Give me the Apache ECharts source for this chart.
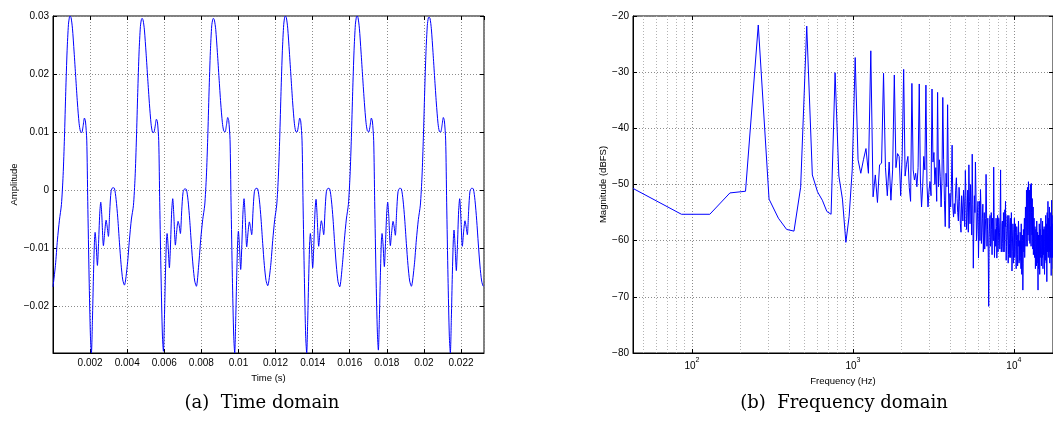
<!DOCTYPE html>
<html lang="en">
<head>
<meta charset="UTF-8">
<title>Time and frequency domain</title>
<style>
    html, body {margin: 0; padding: 0; background: #fff;}
    #main {width: 1053px; height: 435px;}
</style>
</head>
<body>
<div id="main"></div>
<script src="https://cdn.jsdelivr.net/npm/echarts@6/dist/echarts.min.js"></script>
<script>
    // time domain, one period per line
    var waveTime = [
        0.000000,
        0.000131, 0.000239, 0.000347, 0.000455, 0.000545, 0.000617, 0.000688, 0.000760, 0.000832, 0.000886, 0.000922, 0.000976, 0.001048, 0.001138, 0.001227, 0.001317, 0.001407, 0.001479, 0.001551, 0.001623, 0.001695, 0.001749, 0.001820, 0.001874, 0.001946, 0.002018, 0.002072, 0.002126, 0.002180, 0.002234, 0.002270, 0.002324, 0.002395, 0.002449, 0.002521, 0.002575, 0.002629, 0.002719, 0.002791, 0.002863, 0.002917, 0.002988, 0.003060, 0.003132, 0.003222, 0.003312, 0.003402, 0.003492, 0.003581, 0.003671, 0.003761, 0.003851,
        0.004012, 0.004120, 0.004228, 0.004336, 0.004426, 0.004498, 0.004569, 0.004641, 0.004713, 0.004767, 0.004803, 0.004857, 0.004929, 0.005019, 0.005108, 0.005198, 0.005288, 0.005360, 0.005432, 0.005504, 0.005576, 0.005630, 0.005701, 0.005755, 0.005827, 0.005899, 0.005953, 0.006007, 0.006061, 0.006115, 0.006151, 0.006205, 0.006276, 0.006330, 0.006402, 0.006456, 0.006510, 0.006600, 0.006672, 0.006744, 0.006798, 0.006869, 0.006941, 0.007013, 0.007103, 0.007193, 0.007283, 0.007373, 0.007462, 0.007552, 0.007642, 0.007732,
        0.007857, 0.007965, 0.008073, 0.008181, 0.008271, 0.008343, 0.008414, 0.008486, 0.008558, 0.008612, 0.008648, 0.008702, 0.008774, 0.008864, 0.008953, 0.009043, 0.009133, 0.009205, 0.009277, 0.009349, 0.009421, 0.009475, 0.009546, 0.009600, 0.009672, 0.009744, 0.009798, 0.009852, 0.009906, 0.009960, 0.009996, 0.010050, 0.010121, 0.010175, 0.010247, 0.010301, 0.010355, 0.010445, 0.010517, 0.010589, 0.010643, 0.010714, 0.010786, 0.010858, 0.010948, 0.011038, 0.011128, 0.011218, 0.011307, 0.011397, 0.011487, 0.011577,
        0.011739, 0.011847, 0.011955, 0.012063, 0.012153, 0.012225, 0.012296, 0.012368, 0.012440, 0.012494, 0.012530, 0.012584, 0.012656, 0.012746, 0.012835, 0.012925, 0.013015, 0.013087, 0.013159, 0.013231, 0.013303, 0.013357, 0.013428, 0.013482, 0.013554, 0.013626, 0.013680, 0.013734, 0.013788, 0.013842, 0.013878, 0.013932, 0.014003, 0.014057, 0.014129, 0.014183, 0.014237, 0.014327, 0.014399, 0.014471, 0.014525, 0.014596, 0.014668, 0.014740, 0.014830, 0.014920, 0.015010, 0.015100, 0.015189, 0.015279, 0.015369, 0.015459,
        0.015603, 0.015711, 0.015819, 0.015927, 0.016017, 0.016089, 0.016160, 0.016232, 0.016304, 0.016358, 0.016394, 0.016448, 0.016520, 0.016610, 0.016699, 0.016789, 0.016879, 0.016951, 0.017023, 0.017095, 0.017167, 0.017221, 0.017292, 0.017346, 0.017418, 0.017490, 0.017544, 0.017598, 0.017652, 0.017706, 0.017742, 0.017796, 0.017867, 0.017921, 0.017993, 0.018047, 0.018101, 0.018191, 0.018263, 0.018335, 0.018389, 0.018460, 0.018532, 0.018604, 0.018694, 0.018784, 0.018874, 0.018964, 0.019053, 0.019143, 0.019233, 0.019323,
        0.019484, 0.019592, 0.019700, 0.019808, 0.019898, 0.019970, 0.020041, 0.020113, 0.020185, 0.020239, 0.020275, 0.020329, 0.020401, 0.020491, 0.020580, 0.020670, 0.020760, 0.020832, 0.020904, 0.020976, 0.021048, 0.021102, 0.021173, 0.021227, 0.021299, 0.021371, 0.021425, 0.021479, 0.021533, 0.021587, 0.021623, 0.021677, 0.021748, 0.021802, 0.021874, 0.021928, 0.021982, 0.022072, 0.022144, 0.022216, 0.022270, 0.022341, 0.022413, 0.022485, 0.022575, 0.022665, 0.022755, 0.022845, 0.022934, 0.023024, 0.023114, 0.023204,
        0.023220
    ];
    var waveAmp = [
        -0.0167,
        -0.0130, -0.0086, -0.0052, -0.0025, 0.0025, 0.0090, 0.0170, 0.0240, 0.0285, 0.0298, 0.0300, 0.0297, 0.0279, 0.0238, 0.0194, 0.0150, 0.0115, 0.0101, 0.0099, 0.0110, 0.0124, 0.0119, 0.0086, -0.0020, -0.0150, -0.0252, -0.0281, -0.0225, -0.0150, -0.0090, -0.0073, -0.0092, -0.0130, -0.0098, -0.0040, -0.0021, -0.0042, -0.0096, -0.0072, -0.0052, -0.0062, -0.0080, -0.0036, -0.0002, 0.0004, 0.0003, -0.0016, -0.0048, -0.0090, -0.0128, -0.0155, -0.0164,
        -0.0128, -0.0086, -0.0050, -0.0027, 0.0022, 0.0088, 0.0168, 0.0238, 0.0282, 0.0294, 0.0296, 0.0293, 0.0276, 0.0236, 0.0192, 0.0149, 0.0114, 0.0100, 0.0099, 0.0109, 0.0122, 0.0118, 0.0085, -0.0022, -0.0150, -0.0250, -0.0278, -0.0222, -0.0148, -0.0088, -0.0075, -0.0095, -0.0134, -0.0100, -0.0035, -0.0015, -0.0040, -0.0095, -0.0070, -0.0054, -0.0060, -0.0075, -0.0035, -0.0004, 0.0002, 0.0001, -0.0018, -0.0052, -0.0094, -0.0131, -0.0157, -0.0166,
        -0.0129, -0.0085, -0.0051, -0.0026, 0.0024, 0.0089, 0.0169, 0.0239, 0.0283, 0.0294, 0.0296, 0.0293, 0.0277, 0.0237, 0.0193, 0.0150, 0.0116, 0.0102, 0.0100, 0.0111, 0.0125, 0.0120, 0.0087, -0.0021, -0.0151, -0.0252, -0.0281, -0.0224, -0.0148, -0.0087, -0.0071, -0.0094, -0.0137, -0.0101, -0.0036, -0.0015, -0.0041, -0.0098, -0.0073, -0.0055, -0.0063, -0.0077, -0.0036, -0.0003, 0.0003, 0.0002, -0.0017, -0.0050, -0.0092, -0.0130, -0.0156, -0.0165,
        -0.0130, -0.0087, -0.0051, -0.0026, 0.0024, 0.0090, 0.0170, 0.0240, 0.0285, 0.0298, 0.0300, 0.0297, 0.0279, 0.0238, 0.0194, 0.0150, 0.0115, 0.0101, 0.0100, 0.0110, 0.0124, 0.0119, 0.0086, -0.0021, -0.0151, -0.0253, -0.0281, -0.0225, -0.0150, -0.0089, -0.0075, -0.0094, -0.0134, -0.0101, -0.0036, -0.0016, -0.0041, -0.0097, -0.0071, -0.0053, -0.0061, -0.0077, -0.0036, -0.0003, 0.0003, 0.0002, -0.0017, -0.0050, -0.0093, -0.0131, -0.0158, -0.0167,
        -0.0129, -0.0086, -0.0050, -0.0025, 0.0025, 0.0091, 0.0170, 0.0240, 0.0285, 0.0298, 0.0300, 0.0297, 0.0279, 0.0238, 0.0194, 0.0151, 0.0116, 0.0102, 0.0100, 0.0110, 0.0124, 0.0119, 0.0085, -0.0020, -0.0148, -0.0245, -0.0276, -0.0222, -0.0148, -0.0088, -0.0075, -0.0093, -0.0132, -0.0098, -0.0040, -0.0021, -0.0043, -0.0096, -0.0072, -0.0054, -0.0062, -0.0078, -0.0036, -0.0003, 0.0003, 0.0002, -0.0017, -0.0050, -0.0092, -0.0130, -0.0157, -0.0166,
        -0.0129, -0.0086, -0.0051, -0.0026, 0.0024, 0.0090, 0.0169, 0.0239, 0.0284, 0.0297, 0.0298, 0.0296, 0.0278, 0.0237, 0.0193, 0.0150, 0.0115, 0.0101, 0.0100, 0.0111, 0.0125, 0.0120, 0.0086, -0.0021, -0.0151, -0.0252, -0.0281, -0.0222, -0.0146, -0.0085, -0.0069, -0.0094, -0.0139, -0.0101, -0.0035, -0.0015, -0.0040, -0.0097, -0.0071, -0.0053, -0.0062, -0.0077, -0.0035, -0.0002, 0.0003, 0.0002, -0.0018, -0.0052, -0.0093, -0.0131, -0.0157, -0.0166,
        -0.0165
    ];

    // frequency domain: FFT bin numbers and magnitude in dBFS
    var sampleRate = 44100;
    var fftSize = 1024;
    var specBin = [
        1, 2, 3, 4, 5, 6, 7, 8, 9, 10, 11, 12, 13, 14, 15, 16, 17, 18, 19, 20,
        21, 22, 23, 24, 25, 26, 27, 28, 29, 30, 31, 32, 33, 34, 35, 36, 37, 38, 39, 40,
        41, 42, 43, 44, 45, 46, 47, 48, 49, 50, 51, 52, 53, 54, 55, 56, 57, 58, 59, 60,
        61, 62, 63, 64, 65, 66, 67, 68, 69, 70, 71, 72, 73, 74, 75, 76, 77, 78, 79, 80,
        81, 82, 83, 84, 85, 86, 87, 88, 89, 90, 91, 92, 93, 94, 95, 96, 97, 98, 99, 100,
        101, 102, 103, 104, 105, 106, 107, 108, 109, 110, 111, 112, 113, 114, 115, 116, 117, 118, 119, 120,
        121, 122, 123, 124, 125, 126, 127, 128, 129, 130, 131, 132, 133, 134, 135, 136, 137, 138, 139, 140,
        141, 142, 143, 144, 145, 146, 147, 148, 149, 150, 151, 152, 153, 154, 155, 156, 157, 158, 159, 160,
        161, 162, 163, 164, 165, 166, 167, 168, 169, 170, 171, 172, 173, 174, 175, 176, 177, 178, 179, 180,
        181, 182, 183, 184, 185, 186, 187, 188, 189, 190, 191, 192, 193, 194, 195, 196, 197, 198, 199, 200,
        201, 202, 203, 204, 205, 206, 207, 208, 209, 210, 211, 212, 213, 214, 215, 216, 217, 218, 219, 220,
        221, 222, 223, 224, 225, 226, 227, 228, 229, 230, 231, 232, 233, 234, 235, 236, 237, 238, 239, 240,
        241, 242, 243, 244, 245, 246, 247, 248, 249, 250, 251, 252, 253, 254, 255, 256, 257, 258, 259, 260,
        261, 262, 263, 264, 265, 266, 267, 268, 269, 270, 271, 272, 273, 274, 275, 276, 277, 278, 279, 280,
        281, 282, 283, 284, 285, 286, 287, 288, 289, 290, 291, 292, 293, 294, 295, 296, 297, 298, 299, 300,
        301, 302, 303, 304, 305, 306, 307, 308, 309, 310, 311, 312, 313, 314, 315, 316, 317, 318, 319, 320,
        321, 322, 323, 324, 325, 326, 327, 328, 329, 330, 331, 332, 333, 334, 335, 336, 337, 338, 339, 340,
        341, 342, 343, 344, 345, 346, 347, 348, 349, 350, 351, 352, 353, 354, 355, 356, 357, 358, 359, 360,
        361, 362, 363, 364, 365, 366, 367, 368, 369, 370, 371, 372, 373, 374, 375, 376, 377, 378, 379, 380,
        381, 382, 383, 384, 385, 386, 387, 388, 389, 390, 391, 392, 393, 394, 395, 396, 397, 398, 399, 400,
        401, 402, 403, 404, 405, 406, 407, 408, 409, 410, 411, 412, 413, 414, 415, 416, 417, 418, 419, 420,
        421, 422
    ];
    var specDb = [
        -50.7, -55.3, -55.3, -51.5, -51.2, -21.6, -52.6, -56.0, -58.0, -58.3, -50.5, -21.8, -48.3, -51.3, -52.8, -54.8, -55.3, -30.1, -48.5, -52.6,
        -60.3, -55.7, -47.4, -27.4, -45.6, -48.0, -45.6, -43.6, -48.0, -26.2, -52.2, -48.3, -53.2, -46.5, -46.2, -30.2, -47.0, -52.0, -46.0, -52.8,
        -47.4, -30.5, -47.0, -44.5, -45.0, -52.0, -45.0, -29.5, -48.5, -46.4, -45.0, -50.5, -53.0, -32.0, -47.4, -49.2, -48.0, -50.4, -47.0, -32.1,
        -49.2, -54.0, -50.4, -45.0, -47.4, -32.3, -50.0, -54.0, -51.0, -49.5, -52.0, -33.0, -46.0, -44.3, -50.0, -47.0, -53.0, -33.6, -50.4, -45.6,
        -48.6, -54.0, -49.2, -34.5, -45.6, -52.8, -57.5, -48.0, -50.4, -35.8, -49.2, -57.8, -51.6, -54.0, -50.4, -43.0, -54.0, -55.8, -53.4, -55.2,
        -51.0, -48.8, -52.5, -55.0, -56.5, -50.5, -53.0, -57.0, -58.5, -52.0, -54.0, -56.5, -51.0, -53.0, -57.5, -47.5, -52.0, -58.0, -55.0, -51.0,
        -58.5, -46.5, -53.0, -57.0, -50.0, -54.0, -59.0, -44.6, -53.5, -64.9, -57.0, -52.0, -55.0, -46.0, -51.5, -60.0, -58.0, -55.0, -53.0, -63.1,
        -57.5, -53.0, -60.0, -50.9, -54.0, -60.5, -58.5, -56.0, -53.5, -62.0, -59.0, -55.0, -61.5, -59.0, -56.0, -48.2, -54.0, -61.0, -58.0, -56.0,
        -63.0, -71.7, -59.5, -57.0, -55.5, -61.0, -60.5, -55.0, -58.0, -62.5, -56.0, -57.0, -60.0, -46.9, -55.0, -63.0, -59.5, -58.0, -61.0, -56.0,
        -57.5, -63.1, -59.0, -55.5, -62.0, -60.0, -56.0, -57.0, -58.5, -61.5, -55.0, -47.4, -59.0, -62.0, -61.0, -57.0, -56.5, -60.5, -62.0, -55.0,
        -58.0, -62.0, -60.0, -54.5, -57.5, -53.0, -59.0, -63.5, -61.0, -58.0, -55.5, -57.0, -60.0, -64.0, -62.5, -55.5, -58.0, -60.5, -63.0, -57.0,
        -56.0, -63.0, -60.5, -55.0, -59.0, -65.4, -62.0, -59.0, -57.0, -58.0, -64.0, -63.0, -59.5, -56.0, -63.0, -61.5, -57.0, -58.5, -61.0, -65.0,
        -60.0, -57.5, -58.5, -62.5, -64.5, -59.0, -61.0, -56.5, -59.0, -64.0, -62.0, -60.0, -63.5, -58.5, -60.0, -63.0, -65.0, -57.0, -61.5, -66.0,
        -63.0, -59.0, -60.0, -68.8, -64.0, -58.0, -60.5, -62.0, -58.0, -56.0, -63.0, -60.5, -57.5, -54.0, -56.0, -61.0, -60.0, -51.0, -54.0, -58.5,
        -61.0, -50.5, -53.0, -59.0, -58.0, -49.5, -52.5, -57.0, -60.0, -51.0, -55.0, -60.5, -58.5, -50.0, -53.5, -58.0, -61.0, -49.8, -55.0, -57.5,
        -59.0, -52.5, -56.5, -61.5, -60.0, -54.0, -62.5, -60.0, -58.0, -56.0, -60.5, -63.0, -59.0, -57.5, -61.0, -65.0, -62.0, -58.0, -60.0, -62.0,
        -64.5, -56.5, -60.0, -64.0, -61.0, -58.5, -62.5, -68.8, -60.0, -59.0, -65.0, -62.5, -60.5, -57.0, -59.5, -66.0, -61.0, -58.0, -63.0, -63.0,
        -60.0, -56.0, -61.0, -64.5, -62.5, -59.0, -60.0, -61.5, -63.0, -56.5, -61.0, -65.0, -59.5, -58.0, -62.5, -62.0, -60.5, -57.5, -63.5, -66.0,
        -61.0, -58.0, -59.0, -63.5, -62.0, -55.5, -60.0, -61.0, -64.0, -57.0, -59.5, -67.3, -61.0, -55.0, -58.5, -62.0, -60.0, -53.0, -59.0, -63.0,
        -61.5, -56.0, -58.0, -60.5, -62.0, -54.0, -59.5, -64.0, -60.0, -57.5, -61.0, -62.0, -63.0, -55.0, -59.0, -66.2, -60.5, -52.8, -58.0, -63.0,
        -61.5, -57.0, -60.0, -61.0, -63.0, -55.5, -59.0, -65.0, -61.0, -56.0, -60.0, -62.0, -61.5, -58.0, -60.5, -64.0, -62.0, -57.0, -60.0, -63.0,
        -61.0, -58.0
    ];

    // minor grid of the log axis
    var minorFreqs = [50, 60, 70, 80, 90, 200, 300, 400, 500, 600, 700, 800, 900,
        2000, 3000, 4000, 5000, 6000, 7000, 8000, 9000];

    // the frequency axis runs past the right edge of the picture
    var freqMin = sampleRate / fftSize;
    var freqMax = 17500;

    var axisFont = 'Liberation Sans';

    function minus (s) {
        return String(s).replace('-', '\u2212');
    }

    function tickStyle () {
        return {show: true, inside: true, length: 4, lineStyle: {color: '#000', width: 1}};
    }

    function gridLine () {
        return {show: true, lineStyle: {color: '#8c8c8c', width: 1, type: [1, 2]}};
    }

    var chart = echarts.init(document.getElementById('main'));

    var timeData = waveTime.map(function (t, i) { return [t, waveAmp[i]]; });
    var specData = specBin.map(function (k, i) { return [k * sampleRate / fftSize, specDb[i]]; });

    var option = {
        backgroundColor: '#fff',
        animation: false,
        textStyle: {fontFamily: axisFont},
        grid: [
            {left: 53, top: 16, width: 431, height: 337, show: true, borderColor: '#000', borderWidth: 1, backgroundColor: 'transparent'},
            {left: 633, top: 16, right: 0, height: 337, show: true, borderColor: '#000', borderWidth: 1, backgroundColor: 'transparent'}
        ],
        xAxis: [
            {
                type: 'value', gridIndex: 0, min: 0, max: 0.02324, interval: 0.002,
                name: 'Time (s)', nameLocation: 'middle', nameGap: 16,
                nameTextStyle: {fontSize: 9.5, color: '#000', fontFamily: axisFont},
                axisLine: {show: true, onZero: false, lineStyle: {color: '#000'}},
                axisTick: tickStyle(),
                axisLabel: {
                    color: '#000', fontSize: 10, margin: 5, fontFamily: axisFont,
                    showMinLabel: false, showMaxLabel: false,
                    formatter: function (v) { return String(+v.toFixed(3)); }
                },
                splitLine: gridLine()
            },
            {
                type: 'log', gridIndex: 1, logBase: 10, min: freqMin, max: freqMax,
                name: 'Frequency (Hz)', nameLocation: 'middle', nameGap: 22,
                nameTextStyle: {fontSize: 9.5, color: '#000', fontFamily: axisFont},
                axisLine: {show: true, onZero: false, lineStyle: {color: '#000'}},
                axisTick: tickStyle(),
                axisLabel: {
                    color: '#000', margin: 4, fontFamily: axisFont,
                    showMinLabel: false, showMaxLabel: false,
                    formatter: function (v) {
                        return '{b|10}{s|' + Math.round(Math.log(v) / Math.LN10) + '}';
                    },
                    rich: {
                        b: {fontSize: 10, lineHeight: 14, verticalAlign: 'bottom', fontFamily: axisFont, color: '#000'},
                        s: {fontSize: 7, lineHeight: 14, verticalAlign: 'top', fontFamily: axisFont, color: '#000'}
                    }
                },
                splitLine: gridLine()
            },
            {
                type: 'value', gridIndex: 0, position: 'top', min: 0, max: 0.02324, interval: 0.002,
                axisLine: {show: false, onZero: false}, axisTick: tickStyle(), axisLabel: {show: false}, splitLine: {show: false}
            },
            {
                type: 'log', gridIndex: 1, position: 'top', logBase: 10, min: freqMin, max: freqMax,
                axisLine: {show: false, onZero: false}, axisTick: tickStyle(), axisLabel: {show: false}, splitLine: {show: false}
            }
        ],
        yAxis: [
            {
                type: 'value', gridIndex: 0, min: -0.0281, max: 0.03, splitNumber: 6,
                name: 'Amplitude', nameLocation: 'middle', nameGap: 33,
                nameTextStyle: {fontSize: 9.5, color: '#000', fontFamily: axisFont},
                axisLine: {show: true, onZero: false, lineStyle: {color: '#000'}},
                axisTick: tickStyle(),
                axisLabel: {
                    color: '#000', fontSize: 10, margin: 4, fontFamily: axisFont,
                    showMinLabel: false,
                    formatter: function (v) { return minus(+v.toFixed(2)); }
                },
                splitLine: gridLine()
            },
            {
                type: 'value', gridIndex: 1, min: -80, max: -20, interval: 10,
                name: 'Magnitude (dBFS)', nameLocation: 'middle', nameGap: 25,
                nameTextStyle: {fontSize: 9.5, color: '#000', fontFamily: axisFont},
                axisLine: {show: true, onZero: false, lineStyle: {color: '#000'}},
                axisTick: tickStyle(),
                axisLabel: {
                    color: '#000', fontSize: 10, margin: 4, fontFamily: axisFont,
                    formatter: function (v) { return minus(v); }
                },
                splitLine: gridLine()
            },
            {
                type: 'value', gridIndex: 0, position: 'right', min: -0.0281, max: 0.03, splitNumber: 6,
                axisLine: {show: false, onZero: false}, axisTick: tickStyle(), axisLabel: {show: false}, splitLine: {show: false}
            },
            {
                type: 'value', gridIndex: 1, position: 'right', min: -80, max: -20, interval: 10,
                axisLine: {show: false, onZero: false}, axisTick: tickStyle(), axisLabel: {show: false}, splitLine: {show: false}
            }
        ],
        series: [
            {
                name: 'Time domain',
                type: 'line',
                xAxisIndex: 0,
                yAxisIndex: 0,
                data: timeData,
                showSymbol: false,
                smooth: 0.25,
                lineStyle: {color: '#0000ff', width: 1},
                z: 3
            },
            {
                name: 'Frequency domain',
                type: 'line',
                xAxisIndex: 1,
                yAxisIndex: 1,
                data: specData,
                showSymbol: false,
                lineStyle: {color: '#0000ff', width: 1},
                z: 3,
                markLine: {
                    silent: true,
                    symbol: 'none',
                    label: {show: false},
                    lineStyle: {color: '#b4b4b4', width: 1, type: [1, 2]},
                    data: minorFreqs.map(function (f) { return {xAxis: f}; }),
                    z: 1
                }
            }
        ],
        graphic: [
            {
                type: 'text', x: 262, y: 403,
                style: {text: '(a)  Time domain', font: '18px "DejaVu Serif"', fill: '#000', textAlign: 'center', textVerticalAlign: 'middle'}
            },
            {
                type: 'text', x: 844, y: 403,
                style: {text: '(b)  Frequency domain', font: '18px "DejaVu Serif"', fill: '#000', textAlign: 'center', textVerticalAlign: 'middle'}
            }
        ]
    };

    chart.setOption(option);
</script>
</body>
</html>
